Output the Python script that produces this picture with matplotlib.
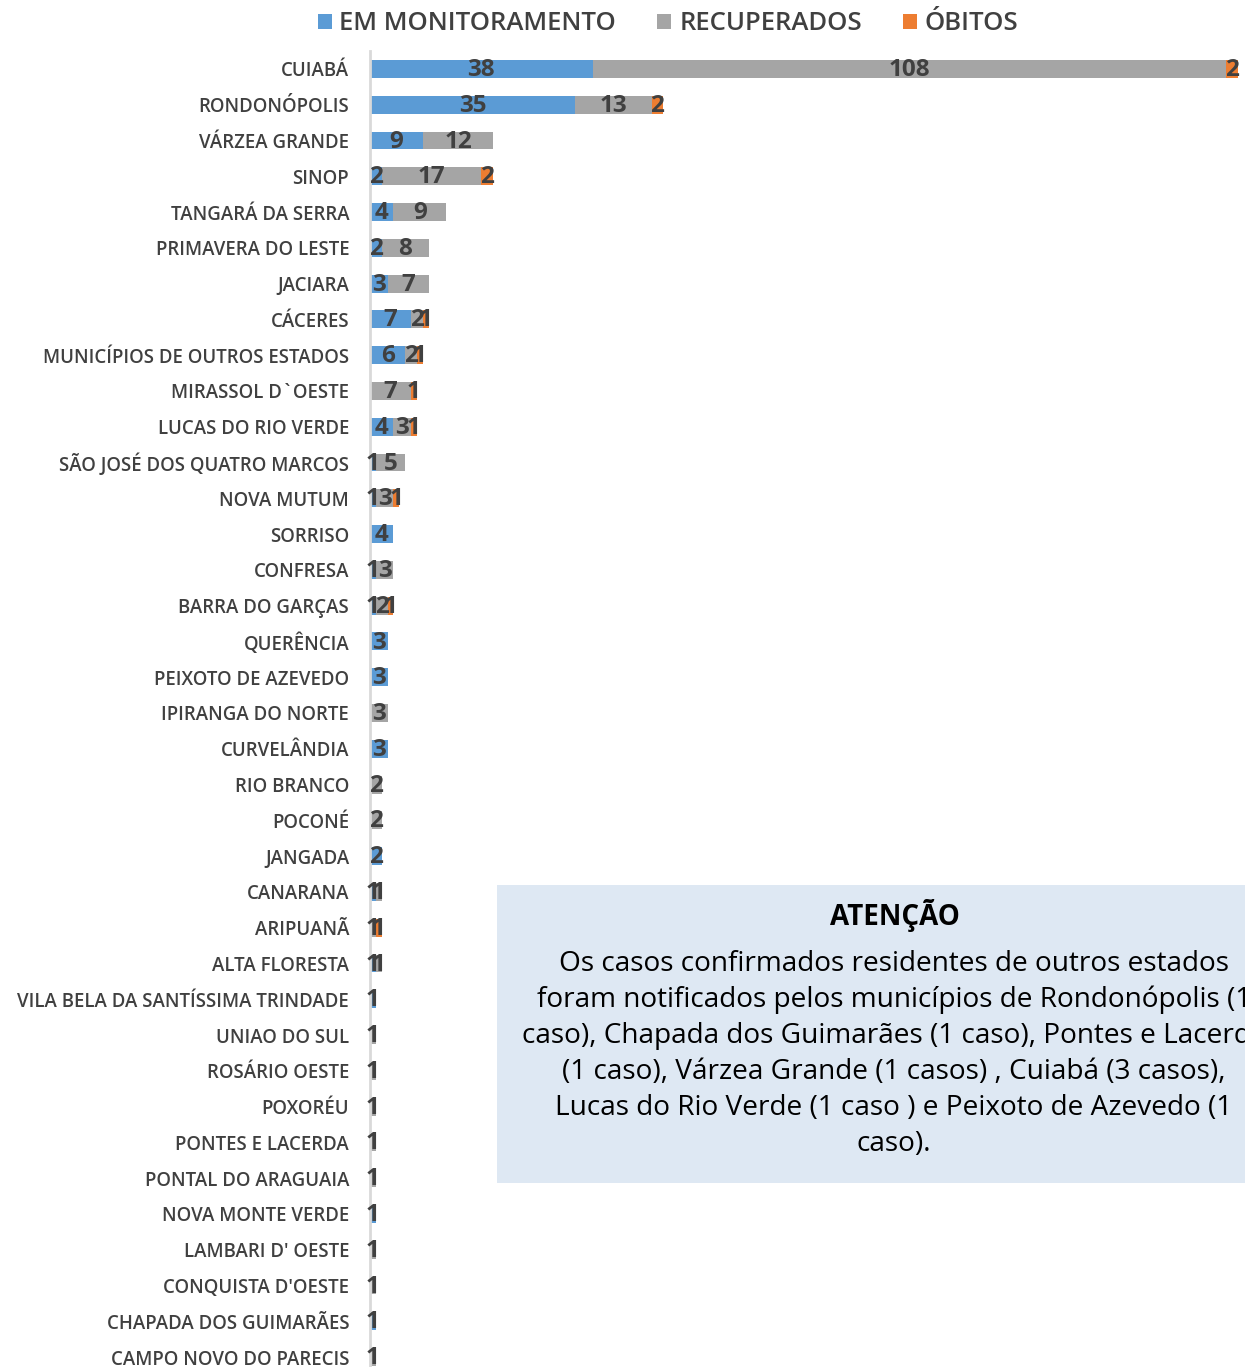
import numpy as np
import matplotlib.pyplot as plt
from matplotlib.patches import Rectangle

municipios = ["CUIABÁ", "RONDONÓPOLIS", "VÁRZEA GRANDE", "SINOP", "TANGARÁ DA SERRA",
              "PRIMAVERA DO LESTE", "JACIARA", "CÁCERES", "MUNICÍPIOS DE OUTROS ESTADOS",
              "MIRASSOL D`OESTE", "LUCAS DO RIO VERDE", "SÃO JOSÉ DOS QUATRO MARCOS",
              "NOVA MUTUM", "SORRISO", "CONFRESA", "BARRA DO GARÇAS", "QUERÊNCIA",
              "PEIXOTO DE AZEVEDO", "IPIRANGA DO NORTE", "CURVELÂNDIA", "RIO BRANCO",
              "POCONÉ", "JANGADA", "CANARANA", "ARIPUANÃ", "ALTA FLORESTA",
              "VILA BELA DA SANTÍSSIMA TRINDADE", "UNIAO DO SUL", "ROSÁRIO OESTE",
              "POXORÉU", "PONTES E LACERDA", "PONTAL DO ARAGUAIA", "NOVA MONTE VERDE",
              "LAMBARI D' OESTE", "CONQUISTA D'OESTE", "CHAPADA DOS GUIMARÃES",
              "CAMPO NOVO DO PARECIS"]
monitoramento = [38, 35, 9, 2, 4, 2, 3, 7, 6, 0, 4, 1, 1, 4, 1, 1, 3, 3, 0, 3, 0, 0, 2,
                 1, 0, 1, 1, 0, 0, 0, 0, 0, 1, 0, 0, 1, 0]
recuperados = [108, 13, 12, 17, 9, 8, 7, 2, 2, 7, 3, 5, 3, 0, 3, 2, 0, 0, 3, 0, 2, 2, 0,
               1, 1, 1, 0, 1, 1, 1, 1, 1, 0, 1, 1, 0, 1]
obitos = [2, 2, 0, 2, 0, 0, 0, 1, 1, 1, 1, 0, 1, 0, 0, 1, 0, 0, 0, 0, 0, 0, 0,
          0, 1, 0, 0, 0, 0, 0, 0, 0, 0, 0, 0, 0, 0]

series = [("EM MONITORAMENTO", monitoramento, "#5B9BD5"),
          ("RECUPERADOS", recuperados, "#A5A5A5"),
          ("ÓBITOS", obitos, "#ED7D31")]

plt.rcParams['font.family'] = ['Open Sans', 'DejaVu Sans']
txt = "#404040"

fig = plt.figure(figsize=(12.45, 13.67), dpi=100)
H = 1367
top_px, bot_px = 51, 1375
ax = fig.add_axes([370 / 1245, (H - bot_px) / H, (1238 - 370) / 1245, (bot_px - top_px) / H])

y = np.arange(len(municipios))
left = np.zeros(len(municipios))
handles = []
for nome, vals, cor in series:
    vals = np.array(vals)
    b = ax.barh(y, vals, left=left, height=0.5, color=cor, label=nome)
    handles.append(b)
    for yi, l, v in zip(y, left, vals):
        if v > 0:
            ax.text(l + v / 2, yi + 0.03, str(v), ha='center', va='center', fontsize=17.5,
                    fontweight='bold', color=txt)
    left = left + vals

ax.set_xlim(0, 148)
ax.set_ylim(len(municipios) - 0.5, -0.5)
ax.set_yticks(y)
ax.set_yticklabels(municipios, fontsize=13.4, fontweight='semibold', color=txt)
ax.tick_params(axis='y', length=0, pad=15)
ax.set_xticks([])
for s in ['top', 'right', 'bottom']:
    ax.spines[s].set_visible(False)
ax.spines['left'].set_color('#D9D9D9')
ax.spines['left'].set_linewidth(2)

fig.legend(handles=handles, loc='center', bbox_to_anchor=(668 / 1245, 1 - 24 / H),
           ncol=3, frameon=False, handlelength=0.55, handleheight=0.55,
           handletextpad=0.3, columnspacing=1.6, labelcolor=txt,
           prop={'size': 18.5, 'weight': 'semibold'})

# caixa de atenção
fig.patches.append(Rectangle((497 / 1245, 1 - 1183 / H), 760 / 1245, 298 / H,
                             transform=fig.transFigure, facecolor='#DEE8F3',
                             edgecolor='none', zorder=0))
fig.text(895 / 1245, 1 - 915 / H, "ATENÇÃO", ha='center', va='center',
         fontsize=20, fontweight='bold', color='black')
aviso = ("Os casos confirmados residentes de outros estados\n"
         "foram notificados pelos municípios de Rondonópolis (1\n"
         "caso), Chapada dos Guimarães (1 caso), Pontes e Lacerda\n"
         "(1 caso), Várzea Grande (1 casos) , Cuiabá (3 casos),\n"
         "Lucas do Rio Verde (1 caso ) e Peixoto de Azevedo (1\n"
         "caso).")
fig.text(894 / 1245, 1 - 1054 / H, aviso, ha='center', va='center', fontsize=20.2,
         color='black', linespacing=1.38)

fig.savefig("out.png", dpi=100)
